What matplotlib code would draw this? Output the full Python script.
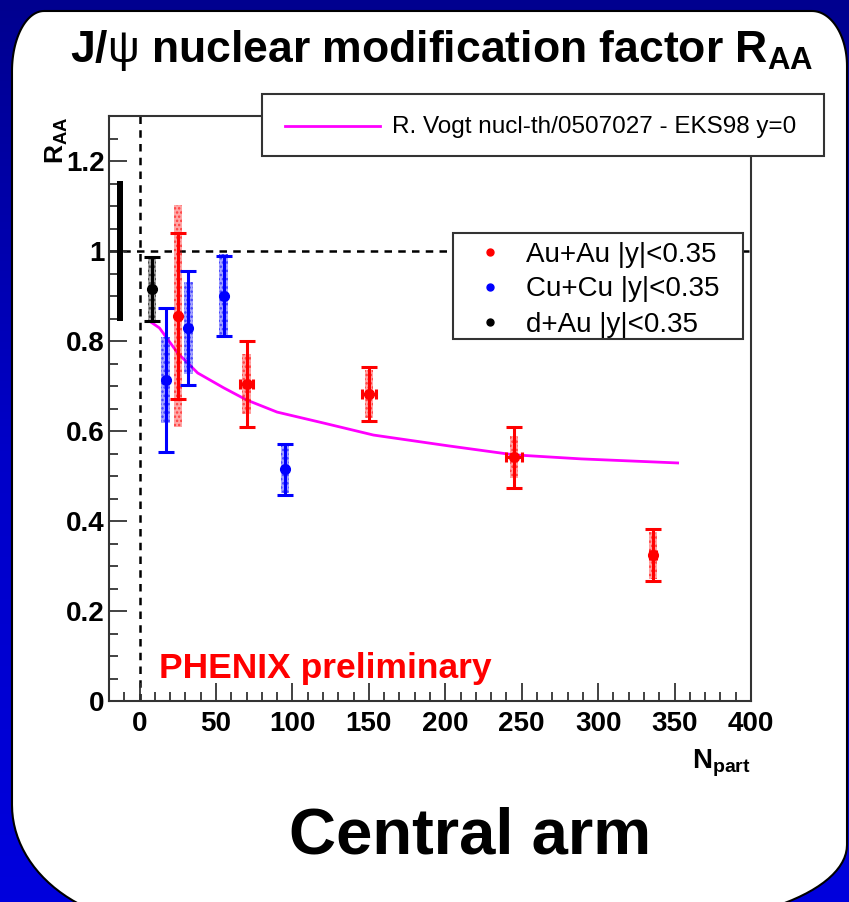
import numpy as np
import matplotlib
matplotlib.use("Agg")
import matplotlib.pyplot as plt
from matplotlib.path import Path
from matplotlib.patches import PathPatch, Rectangle
from matplotlib.colors import LinearSegmentedColormap
from matplotlib.ticker import MultipleLocator, FormatStrFormatter

plt.rcParams['font.family'] = ['Liberation Sans', 'DejaVu Sans']
plt.rcParams['mathtext.fontset'] = 'custom'
plt.rcParams['mathtext.rm'] = 'Liberation Sans'
plt.rcParams['mathtext.bf'] = 'Liberation Sans:bold'
plt.rcParams['hatch.linewidth'] = 1.2

# --- data ---
# Au+Au |y|<0.35
auau_npart = [25, 70, 150, 245, 336]
auau_raa = [0.856, 0.704, 0.682, 0.542, 0.324]
auau_stat = [0.184, 0.096, 0.060, 0.068, 0.058]
auau_sys = [0.247, 0.067, 0.053, 0.047, 0.052]
auau_xerr = [0, 4, 4.5, 5, 2]

# Cu+Cu |y|<0.35
cucu_npart = [17, 32, 55, 95]
cucu_raa = [0.713, 0.829, 0.900, 0.515]
cucu_stat = [0.160, 0.126, 0.089, 0.057]
cucu_sys = [0.095, 0.103, 0.094, 0.053]

# d+Au |y|<0.35
dau_npart = [8]
dau_raa = [0.916]
dau_stat = [0.071]
dau_sys = [0.070]

# global systematic box
glob_x = -13
glob_center = 1.0
glob_err = 0.155

# R. Vogt EKS98 curve
vogt_npart = [7, 13, 25, 38, 55, 70, 90, 120, 153, 202, 245, 289, 352]
vogt_raa = [0.843, 0.829, 0.773, 0.729, 0.696, 0.669, 0.642, 0.618, 0.591,
            0.567, 0.547, 0.538, 0.529]

series_names = ['Au+Au |y|<0.35', 'Cu+Cu |y|<0.35', 'd+Au |y|<0.35']
series_colors = ['#ff0000', '#0000ff', '#000000']
vogt_label = 'R. Vogt nucl-th/0507027 - EKS98 y=0'

W, H = 849, 902
fig = plt.figure(figsize=(W / 100, H / 100), dpi=100)

# background: blue slide with white rounded panel
bg = fig.add_axes([0, 0, 1, 1], zorder=-5)
bg.set_xlim(0, W)
bg.set_ylim(H, 0)
bg.axis('off')
grad = np.linspace(0, 1, 256).reshape(-1, 1)
cm = LinearSegmentedColormap.from_list('slide', ['#00008f', '#0000c8', '#0000dd'])
bg.imshow(grad, aspect='auto', cmap=cm, extent=[0, W, H, 0])


def corner(cx, cy, rx, ry, a0, a1):
    t = np.radians(np.linspace(a0, a1, 30))
    return np.column_stack([cx + rx * np.cos(t), cy + ry * np.sin(t)])


L, R, T, B = 12, 847, 11, 925
pts = np.vstack([
    corner(L + 32, T + 60, 32, 60, 180, 270),
    corner(R - 35, T + 55, 35, 55, 270, 360),
    corner(R - 200, B - 80, 200, 80, 0, 90),
    corner(L + 154, B - 120, 154, 120, 90, 180),
])
panel = PathPatch(Path(np.vstack([pts, pts[:1]]), closed=True),
                  facecolor='white', edgecolor='black', lw=1.5)
bg.add_patch(panel)

# main plot
ax = fig.add_axes([109 / W, 1 - 701 / H, (751 - 109) / W, (701 - 116) / H])
ax.set_xlim(-20, 400)
ax.set_ylim(0, 1.3)

ax.axvline(0, color='black', ls=(0, (3, 2.5)), lw=1.8, zorder=1)
ax.axhline(1, color='black', ls=(0, (3, 2.5)), lw=1.8, zorder=1)

ax.bar(glob_x, 2 * glob_err, bottom=glob_center - glob_err, width=4,
       color='black', zorder=2)

ax.plot(vogt_npart, vogt_raa, color='#ff00ff', lw=2, zorder=3)

datasets = [
    (auau_npart, auau_raa, auau_stat, auau_sys, auau_xerr),
    (cucu_npart, cucu_raa, cucu_stat, cucu_sys, None),
    (dau_npart, dau_raa, dau_stat, dau_sys, None),
]
for (x, y, st, sy, xe), c in zip(datasets, series_colors):
    x = np.array(x)
    y = np.array(y)
    sy = np.array(sy)
    ax.bar(x, 2 * sy, bottom=y - sy, width=5.5, color=c, alpha=0.35,
           lw=0, zorder=4)
    ax.bar(x, 2 * sy, bottom=y - sy, width=5.5, facecolor='none',
           edgecolor=c, hatch='....', lw=0, alpha=0.6, zorder=4)
    ax.errorbar(x, y, yerr=st, fmt='o', color=c, ms=7, lw=2.2,
                capsize=6, capthick=2.2, zorder=5)
    if xe is not None:
        ax.errorbar(x, y, xerr=xe, fmt='none', ecolor=c, lw=2.2,
                    capsize=3.5, capthick=2.2, zorder=5)

ax.xaxis.set_major_locator(MultipleLocator(50))
ax.xaxis.set_minor_locator(MultipleLocator(10))
ax.yaxis.set_major_locator(MultipleLocator(0.2))
ax.yaxis.set_minor_locator(MultipleLocator(0.05))
ax.yaxis.set_major_formatter(FormatStrFormatter('%g'))
ax.tick_params(which='both', direction='in', top=False, right=False,
               width=1.3, color='#333333')
ax.tick_params(which='major', length=13)
ax.tick_params(which='minor', length=6.5)
ax.tick_params(axis='x', labelsize=20, pad=7)
ax.tick_params(axis='y', labelsize=20, pad=3)
for lab in ax.get_xticklabels() + ax.get_yticklabels():
    lab.set_fontweight('bold')
for sp in ax.spines.values():
    sp.set_color('#333333')
    sp.set_linewidth(1.5)

# overlay for titles, legends, labels (pixel coordinates)
ov = fig.add_axes([0, 0, 1, 1], zorder=10)
ov.set_xlim(0, W)
ov.set_ylim(H, 0)
ov.axis('off')

ov.text(442, 62, r'J/$\mathrm{\psi}$ nuclear modification factor R$_{\mathbf{AA}}$',
        ha='center', va='baseline', fontsize=32, fontweight='bold')
ov.text(57, 116, r'R$_{\mathbf{AA}}$', rotation=90, ha='center', va='top',
        fontsize=19, fontweight='bold')
ov.text(751, 768, r'N$_{\mathbf{part}}$', ha='right', va='baseline',
        fontsize=20, fontweight='bold')
ov.text(159, 678, 'PHENIX preliminary', color='#ff0000', fontsize=25.5,
        fontweight='bold', ha='left', va='baseline')
ov.text(470, 853, 'Central arm', fontsize=47, fontweight='bold',
        ha='center', va='baseline')

# legend 1: theory curve
ov.add_patch(Rectangle((262, 94), 824 - 262, 156 - 94, facecolor='white',
                       edgecolor='#333333', lw=1.5))
ov.plot([285, 380], [126, 126], color='#ff00ff', lw=2)
ov.text(392, 133, vogt_label, fontsize=17.5, ha='left', va='baseline')

# legend 2: data sets
ov.add_patch(Rectangle((453, 233), 743 - 453, 339 - 233, facecolor='white',
                       edgecolor='#333333', lw=1.5))
for i, (name, c) in enumerate(zip(series_names, series_colors)):
    yy = 252 + 35 * i
    ov.plot([490], [yy], 'o', color=c, ms=5)
    ov.text(526, yy + 9.5, name, fontsize=20, ha='left', va='baseline')

fig.savefig('out.png', dpi=100)
